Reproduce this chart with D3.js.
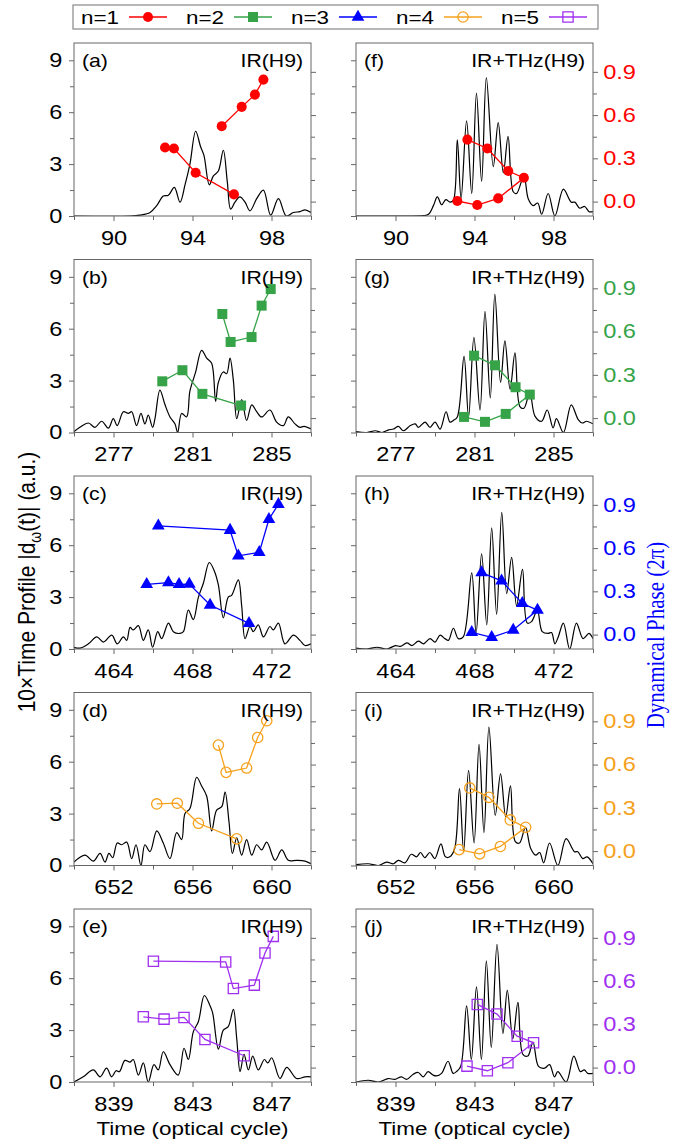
<!DOCTYPE html>
<html>
<head>
<meta charset="utf-8">
<script src="https://cdn.jsdelivr.net/npm/d3@7"></script>
<style>
  html, body { margin: 0; padding: 0; background: #fff; }
  svg { display: block; font-family: "Liberation Sans", Arial, Helvetica, sans-serif; }
</style>
</head>
<body>
<svg id="chart" width="687" height="1146"></svg>
<script>
// === Datos ===
const xDomains = [[88, 100], [275, 287], [462, 474], [650, 662], [837, 849]];
const xMajor = [[90, 94, 98], [277, 281, 285], [464, 468, 472], [652, 656, 660], [839, 843, 847]];
const profileTicks = [0, 3, 6, 9];
const profileMinor = [1.5, 4.5, 7.5];
const phaseTicks = [0, 0.3, 0.6, 0.9];
const phaseMinor = [0.15, 0.45, 0.75];

const seriesLabels = ['n=1', 'n=2', 'n=3', 'n=4', 'n=5'];
const seriesColors = ['#ff0000', '#36a348', '#0000ff', '#f5a11c', '#a030f0'];
const seriesSymbols = ['circle', 'square', 'triangle', 'circle', 'square'];
const seriesFilled = [true, true, true, false, false];
const panelLetters = [['a', 'f'], ['b', 'g'], ['c', 'h'], ['d', 'i'], ['e', 'j']];
const panelTitles = ['IR(H9)', 'IR+THz(H9)'];

// perfil temporal, IR solo (columna izquierda)
const irA = [[88,0],[90.84,0],[91.34,0.05],[91.85,0.2],[92.19,0.6],[92.52,1.15],[92.78,1.2],[93.08,1.65],[93.37,0.8],[93.62,1.8],[93.87,3.0],[94.16,4.9],[94.41,4.0],[94.58,3.5],[94.85,1.8],[95.05,2.3],[95.31,2.6],[95.56,3.8],[95.76,2.0],[95.93,0.4],[96.15,0.8],[96.4,1.1],[96.66,0.8],[96.91,0.3],[97.25,1.0],[97.59,1.5],[97.96,0.05],[98.35,1.0],[98.75,0.0],[99.11,0.2],[99.44,0.25],[99.7,0.35],[100,0.2]];
const irB = [[275,0.05],[275.3,0.3],[275.73,0.55],[276.06,0.3],[276.4,0.65],[276.74,0.25],[276.99,0.8],[277.19,0.4],[277.5,1.2],[277.75,1.1],[277.92,1.2],[278.17,0.4],[278.39,1.1],[278.59,0.5],[278.76,1.0],[278.98,0.3],[279.1,0.8],[279.35,2.45],[279.61,1.6],[279.86,0.9],[280.11,0.5],[280.25,0.0],[280.45,1.1],[280.7,0.9],[280.87,2.4],[281.16,3.5],[281.46,4.75],[281.72,4.3],[281.97,4.0],[282.17,1.8],[282.31,2.9],[282.56,3.5],[282.73,3.4],[282.9,4.3],[283.07,3.0],[283.24,0.8],[283.49,1.9],[283.74,0.7],[284.0,1.6],[284.25,1.2],[284.5,0.9],[284.92,1.3],[285.26,0.6],[285.6,0.4],[285.85,0.9],[286.19,0.5],[286.44,0.3],[286.65,0.35],[287,0.2]];
const irC = [[462,0.1],[462.3,0.05],[462.73,0.3],[463.15,0.7],[463.49,0.4],[463.91,0.8],[464.19,0.3],[464.5,0.7],[464.67,0.5],[464.84,1.25],[465.0,1.1],[465.26,1.35],[465.51,0.5],[465.76,1.1],[465.98,0.1],[466.24,1.0],[466.44,0.6],[466.78,1.5],[467.03,1.0],[467.37,0.9],[467.54,1.0],[467.79,2.25],[468.04,1.7],[468.3,3.0],[468.55,3.8],[468.85,5.0],[469.11,4.5],[469.31,3.7],[469.56,1.8],[469.81,3.0],[469.98,3.1],[470.32,4.0],[470.49,2.5],[470.66,0.6],[470.91,1.3],[471.08,1.0],[471.33,1.4],[471.59,0.7],[471.92,1.3],[472.09,1.1],[472.35,1.5],[472.68,0.3],[473.11,0.8],[473.44,0.5],[473.7,0.2],[474,0.3]];
const irD = [[650,0.2],[650.56,0.6],[650.98,0.25],[651.32,0.7],[651.57,0.2],[651.77,0.7],[651.96,0.45],[652.19,1.3],[652.41,1.2],[652.67,1.35],[652.92,0.4],[653.14,1.2],[653.39,0.0],[653.59,1.2],[653.85,0.8],[654.19,2.0],[654.52,1.3],[654.86,0.4],[655.2,1.9],[655.45,1.5],[655.62,3.0],[655.87,3.3],[656.21,5.1],[656.46,4.6],[656.72,4.0],[656.97,2.0],[657.22,3.2],[657.48,3.4],[657.65,4.25],[657.85,2.5],[658.02,0.7],[658.24,1.6],[658.49,0.6],[658.74,1.5],[659.0,0.6],[659.25,1.2],[659.5,0.9],[659.76,1.35],[660.18,0.3],[660.52,0.9],[660.85,0.3],[661.27,0.3],[661.7,0.25],[662,0.1]];
const irE = [[837,0.0],[837.47,0.3],[837.98,0.7],[838.32,0.3],[838.65,0.8],[838.91,0.3],[839.13,0.65],[839.3,0.6],[839.58,1.25],[839.84,1.15],[840.0,1.3],[840.26,0.4],[840.51,1.1],[840.76,0.0],[841.05,1.0],[841.27,0.7],[841.52,1.75],[841.86,1.0],[842.28,0.4],[842.57,1.95],[842.79,1.3],[843.04,2.9],[843.3,3.5],[843.6,5.0],[843.89,4.4],[844.02,4.0],[844.31,1.9],[844.56,3.0],[844.81,3.2],[845.07,4.2],[845.24,2.5],[845.41,0.6],[845.61,1.6],[845.83,0.7],[846.05,1.5],[846.33,0.7],[846.64,1.3],[846.81,1.1],[847.01,1.4],[847.43,0.2],[847.77,0.85],[848.27,0.2],[848.7,0.3],[849,0.3]];

// perfil temporal, IR+THz (columna derecha)
const thzF = [[88,0],[90.24,0],[91.4,0.02],[91.67,0.1],[91.92,0.6],[92.12,1.1],[92.34,0.65],[92.55,0.95],[92.76,0.8],[92.93,0.9],[93.13,4.4],[93.32,1.0],[93.6,5.5],[93.86,1.3],[94.1,7.1],[94.36,2.0],[94.6,8.0],[94.95,2.85],[95.2,5.4],[95.46,2.5],[95.7,4.6],[95.96,1.4],[96.13,1.3],[96.5,2.3],[96.72,1.0],[96.97,0.6],[97.2,0.75],[97.4,0.1],[97.73,1.3],[98.07,0.0],[98.5,1.55],[98.9,0.8],[99.08,0.8],[99.33,0.45],[99.58,0.55],[99.8,0.25],[100,0.25]];
const thzG = [[275,0.05],[275.55,0.0],[275.98,0.1],[276.3,0.0],[276.65,0.15],[276.9,0.2],[277.15,0.35],[277.4,0.1],[277.75,0.4],[278.0,0.5],[278.15,0.3],[278.5,0.6],[278.75,0.3],[279.0,0.6],[279.26,0.2],[279.56,1.2],[279.76,0.6],[279.93,0.7],[280.13,0.9],[280.47,4.4],[280.7,0.9],[280.97,5.5],[281.28,1.3],[281.53,7.0],[281.8,2.0],[282.03,8.0],[282.32,2.9],[282.54,5.3],[282.8,2.5],[283.05,4.6],[283.3,1.5],[283.5,1.4],[283.8,2.3],[284.06,0.95],[284.4,0.65],[284.68,1.3],[284.98,0.27],[285.15,0.8],[285.5,0.0],[285.9,1.6],[286.25,0.75],[286.46,0.55],[286.67,0.65],[287,0.5]];
const thzH = [[462,0.05],[462.55,0.0],[463.06,0.1],[463.57,0.0],[464.0,0.2],[464.24,0.15],[464.58,0.35],[464.83,0.2],[465.16,0.45],[465.42,0.3],[465.75,0.6],[466.0,0.4],[466.26,0.8],[466.5,0.6],[466.68,0.5],[466.93,1.2],[467.18,0.6],[467.43,0.7],[467.86,4.4],[468.08,0.9],[468.36,5.5],[468.62,1.4],[468.87,7.0],[469.12,2.0],[469.38,7.9],[469.63,3.2],[469.88,5.3],[470.13,2.5],[470.43,4.6],[470.67,1.5],[470.9,1.6],[471.18,2.25],[471.43,1.0],[471.73,0.9],[471.9,0.95],[472.07,0.3],[472.24,0.7],[472.5,1.5],[472.82,0.0],[473.16,1.5],[473.5,0.6],[473.8,0.9],[474,0.6]];
const thzI = [[650,0.05],[650.62,0.1],[651.13,0.0],[651.55,0.2],[651.9,0.1],[652.14,0.3],[652.47,0.15],[652.8,0.65],[653.06,0.5],[653.27,0.75],[653.48,0.45],[653.74,0.75],[653.99,0.4],[654.3,1.25],[654.53,0.5],[654.75,0.5],[655.0,1.0],[655.24,4.45],[655.45,0.8],[655.7,5.5],[655.98,1.3],[656.23,7.0],[656.48,1.9],[656.73,8.0],[657.05,2.9],[657.32,5.3],[657.58,2.8],[657.82,4.6],[658.06,1.4],[658.28,1.3],[658.58,2.2],[658.84,1.0],[659.1,0.6],[659.3,0.75],[659.5,0.15],[659.8,1.3],[660.22,0.0],[660.64,1.55],[661.06,0.8],[661.23,0.8],[661.48,0.4],[661.7,0.5],[662,0.1]];
const thzJ = [[837,0.0],[837.62,0.1],[838.13,0.0],[838.63,0.2],[838.97,0.15],[839.3,0.3],[839.56,0.15],[839.9,0.45],[840.15,0.55],[840.4,0.3],[840.65,0.6],[840.9,0.4],[841.07,0.35],[841.33,0.5],[841.66,1.2],[841.92,0.5],[842.08,0.6],[842.3,0.9],[842.6,4.4],[842.84,1.3],[843.1,5.5],[843.35,1.3],[843.6,7.0],[843.85,2.0],[844.14,7.95],[844.44,2.8],[844.66,5.3],[844.94,2.5],[845.2,4.6],[845.45,1.6],[845.7,1.5],[845.96,2.3],[846.24,0.9],[846.55,0.8],[846.8,1.0],[847.05,0.3],[847.22,0.6],[847.64,0.0],[848.03,1.5],[848.36,0.6],[848.56,0.7],[848.73,0.5],[849,0.5]];

// fase dinámica (2π); null corta la línea
const phaseA = [[92.61,0.375],[93.06,0.368],[94.16,0.2],[96.1,0.05],null,[95.48,0.523],[96.49,0.657],[97.16,0.742],[97.59,0.846]];
const phaseB = [[279.47,0.255],[280.49,0.332],[281.5,0.168],[283.46,0.087],null,[282.51,0.722],[282.93,0.528],[283.99,0.562],[284.5,0.78],[284.96,0.895]];
const phaseC = [[465.68,0.348],[466.78,0.36],[467.32,0.348],[467.84,0.35],[468.89,0.205],[470.86,0.078],null,[466.27,0.754],[469.9,0.724],[470.32,0.546],[471.38,0.57],[471.87,0.8],[472.35,0.904]];
const phaseD = [[654.19,0.327],[655.23,0.332],[656.3,0.193],[658.24,0.085],null,[657.31,0.735],[657.7,0.546],[658.74,0.576],[659.3,0.788],[659.76,0.904]];
const phaseE = [[840.51,0.352],[841.56,0.336],[842.57,0.348],[843.63,0.195],[845.62,0.082],null,[841.02,0.738],[844.68,0.733],[845.07,0.548],[846.13,0.572],[846.67,0.795],[847.09,0.91]];
const phaseF = [[93.64,0.43],[94.65,0.368],[95.71,0.212],[96.5,0.165],[95.2,0.022],[94.14,-0.024],[93.13,0.004]];
const phaseG = [[280.98,0.433],[282.04,0.366],[283.08,0.214],[283.8,0.163],[282.58,0.029],[281.53,-0.026],[280.47,0.008]];
const phaseH = [[468.36,0.43],[469.37,0.373],[470.42,0.216],[471.19,0.17],[469.96,0.032],[468.87,-0.019],[467.86,0.015]];
const phaseI = [[655.76,0.438],[656.73,0.373],[657.81,0.216],[658.59,0.165],[657.31,0.032],[656.26,-0.019],[655.22,0.01]];
const phaseJ = [[843.14,0.438],[844.14,0.371],[845.16,0.218],[845.99,0.172],[844.69,0.034],[843.65,-0.022],[842.62,0.01]];

const profiles = [[irA, thzF], [irB, thzG], [irC, thzH], [irD, thzI], [irE, thzJ]];
const phases = [[phaseA, phaseF], [phaseB, phaseG], [phaseC, phaseH], [phaseD, phaseI], [phaseE, phaseJ]];

(function init() {

  // === Layout ===
  const colX = [74, 356];
  const rowY = [43, 259.5, 476, 692.5, 909];
  const PW = 237, PH = 173;
  const SX = 1.18;          // el original está algo estirado en horizontal
  const axisGray = '#666';
  const tickFont = 20;

  const svg = d3.select('#chart');

  const symbolType = { circle: d3.symbolCircle, square: d3.symbolSquare, triangle: d3.symbolTriangle };
  const symbolSize = { circle: 80, square: 100, triangle: 70 };

  function marker(sel, k) {
    const open = !seriesFilled[k];
    sel.append('path')
      .attr('d', d3.symbol(symbolType[seriesSymbols[k]], open ? symbolSize[seriesSymbols[k]] * 1.05 : symbolSize[seriesSymbols[k]])())
      .attr('fill', open ? 'none' : seriesColors[k])
      .attr('stroke', seriesColors[k])
      .attr('stroke-width', open ? 1.3 : 0);
  }

  function stretchText(sel) {
    sel.each(function () {
      const t = d3.select(this);
      const x = +t.attr('x') || 0;
      t.attr('x', x / SX).attr('transform', `scale(${SX},1)`);
    });
  }

  function styleAxis(g) {
    g.select('.domain').remove();
    g.selectAll('line').attr('stroke', axisGray);
    g.selectAll('text').attr('font-size', tickFont).attr('fill', '#000').attr('font-family', null);
    g.attr('font-family', null);
  }

  // === Paneles ===
  rowY.forEach((top, r) => {
    colX.forEach((left, c) => {
      const k = r;  // serie n=r+1
      const g = svg.append('g').attr('transform', `translate(${left},${top})`);
      const x = d3.scaleLinear().domain(xDomains[r]).range([0, PW]);
      const yL = d3.scaleLinear().domain([0, 10]).range([PH, 0]);
      const yR = d3.scaleLinear().domain([-0.1, 1.1]).range([PH, 0]);

      const clipId = `clip-${r}-${c}`;
      g.append('clipPath').attr('id', clipId)
        .append('rect').attr('width', PW).attr('height', PH);

      // eje izquierdo
      const axL = g.append('g').call(d3.axisLeft(yL).tickValues(profileTicks).tickSize(5).tickSizeOuter(0)
        .tickPadding(6.5).tickFormat(c === 0 ? d3.format('d') : ''));
      styleAxis(axL); stretchText(axL.selectAll('text'));
      const axLm = g.append('g').call(d3.axisLeft(yL).tickValues(profileMinor).tickSize(4).tickFormat(''));
      styleAxis(axLm);

      // eje derecho (fase)
      const axR = g.append('g').attr('transform', `translate(${PW},0)`)
        .call(d3.axisRight(yR).tickValues(phaseTicks).tickSize(5).tickSizeOuter(0)
          .tickPadding(5.2).tickFormat(c === 1 ? d3.format('.1f') : ''));
      styleAxis(axR); stretchText(axR.selectAll('text'));
      axR.selectAll('text').attr('fill', seriesColors[k]);
      const axRm = g.append('g').attr('transform', `translate(${PW},0)`)
        .call(d3.axisRight(yR).tickValues(phaseMinor).tickSize(4).tickFormat(''));
      styleAxis(axRm);

      // eje inferior
      const d = xDomains[r];
      const minor = d3.range(d[0], d[1] + 0.01, 2).filter(v => !xMajor[r].includes(v));
      const axB = g.append('g').attr('transform', `translate(0,${PH})`)
        .call(d3.axisBottom(x).tickValues(xMajor[r]).tickSize(5).tickSizeOuter(0).tickPadding(9.8).tickFormat(d3.format('d')));
      styleAxis(axB); stretchText(axB.selectAll('text'));
      const axBm = g.append('g').attr('transform', `translate(0,${PH})`)
        .call(d3.axisBottom(x).tickValues(minor).tickSize(4).tickFormat(''));
      styleAxis(axBm);

      // perfil temporal
      const line = d3.line()
        .x(p => x(p[0])).y(p => yL(p[1]))
        .curve(d3.curveCatmullRom.alpha(0.5));
      g.append('path')
        .attr('clip-path', `url(#${clipId})`)
        .attr('d', line(profiles[r][c]))
        .attr('fill', 'none').attr('stroke', '#000').attr('stroke-width', 1.2);

      // fase dinámica
      const pdata = phases[r][c];
      const pline = d3.line().defined(p => p !== null).x(p => x(p[0])).y(p => yR(p[1]));
      g.append('path')
        .attr('d', pline(pdata))
        .attr('fill', 'none').attr('stroke', seriesColors[k]).attr('stroke-width', 1.3);
      pdata.filter(p => p !== null).forEach(p => {
        const m = g.append('g').attr('transform', `translate(${x(p[0])},${yR(p[1])})`);
        marker(m, k);
      });

      // marco
      g.append('rect').attr('width', PW).attr('height', PH)
        .attr('fill', 'none').attr('stroke', axisGray).attr('stroke-width', 1);

      // rótulos
      g.append('text').attr('transform', `translate(8,24) scale(${SX},1)`)
        .attr('font-size', 18).text(`(${panelLetters[r][c]})`);
      g.append('text').attr('transform', `translate(${PW - 8},24) scale(${SX},1)`)
        .attr('font-size', 18).attr('text-anchor', 'end').text(panelTitles[c]);
    });
  });

  // === Títulos de ejes ===
  colX.forEach(left => {
    svg.append('text')
      .attr('transform', `translate(${left + PW / 2},1135) scale(${SX},1)`)
      .attr('text-anchor', 'middle').attr('font-size', 19)
      .text('Time (optical cycle)');
  });

  const yt = svg.append('text')
    .attr('transform', `translate(35,582) rotate(-90) scale(1,${SX})`)
    .attr('text-anchor', 'middle').attr('font-size', 21);
  yt.append('tspan').text('10×Time Profile |d');
  yt.append('tspan').attr('font-size', 14).attr('dy', 5).text('ω');
  yt.append('tspan').attr('dy', -5).text('(t)| (a.u.)');

  svg.append('text')
    .attr('transform', `translate(664,635) rotate(-90) scale(1,${SX})`)
    .attr('text-anchor', 'middle').attr('font-size', 21)
    .attr('font-family', '"Liberation Serif", "Times New Roman", serif')
    .attr('fill', '#0000ff')
    .text('Dynamical Phase (2π)');

  // === Leyenda ===
  const leg = svg.append('g');
  leg.append('rect').attr('x', 73).attr('y', 5).attr('width', 525).attr('height', 24)
    .attr('fill', '#fff').attr('stroke', '#888').attr('stroke-width', 1.2);
  seriesLabels.forEach((lab, k) => {
    const x0 = 81 + k * 105;
    leg.append('text').attr('transform', `translate(${x0},24) scale(${SX},1)`)
      .attr('font-size', 19).text(lab);
    leg.append('line').attr('x1', x0 + 48).attr('x2', x0 + 86).attr('y1', 17).attr('y2', 17)
      .attr('stroke', seriesColors[k]).attr('stroke-width', 1.3);
    const m = leg.append('g').attr('transform', `translate(${x0 + 67},17)`);
    marker(m, k);
  });

})();
</script>
</body>
</html>
